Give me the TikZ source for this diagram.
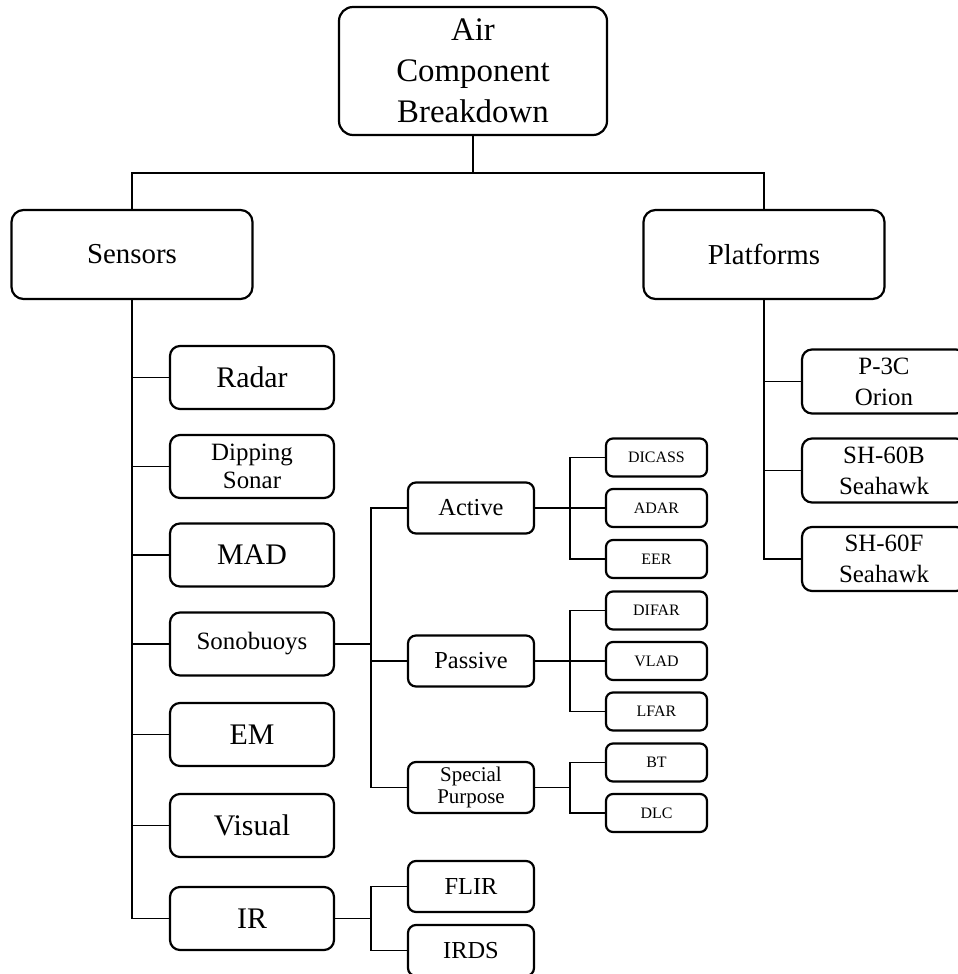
\documentclass[tikz,border=0pt]{standalone}
\usepackage{fontspec}
\setmainfont{Liberation Serif}
\begin{document}
\begin{tikzpicture}[x=1bp,y=-1bp,
  box/.style={draw, line width=2.2bp, rounded corners=10bp, inner sep=0pt, align=center, fill=white},
  topbox/.style={box, rounded corners=14bp, minimum width=268bp, minimum height=128bp, font=\fontsize{33}{41}\selectfont},
  midbox/.style={box, rounded corners=12bp, minimum width=241bp, minimum height=89bp, font=\fontsize{29}{34}\selectfont},
  leafbig/.style={box, minimum width=164bp, minimum height=63bp, font=\fontsize{30}{34}\selectfont},
  leafmed/.style={box, minimum width=164bp, minimum height=63bp, font=\fontsize{25}{28}\selectfont},
  subbox/.style={box, rounded corners=8bp, minimum width=126bp, minimum height=51bp, font=\fontsize{24.5}{28}\selectfont},
  smallbox/.style={box, rounded corners=7bp, minimum width=101bp, minimum height=38bp, font=\fontsize{16}{19}\selectfont},
  conn/.style={line width=1.9bp}
]
\useasboundingbox (0,0) rectangle (958,974);
\clip (0,0) rectangle (958,974);

% top level
\node[topbox] (top) at (473,71) {Air\\Component\\Breakdown};
\node[midbox] (sensors) at (132,254.5) {Sensors};
\node[midbox] (platforms) at (764,254.5) {Platforms};

% sensors children
\node[leafbig] (radar) at (252,377.5) {Radar};
\node[leafmed, font=\fontsize{25}{28}\selectfont] (dipping) at (252,466.5) {Dipping\\Sonar};
\node[leafbig] (mad) at (252,555) {MAD};
\node[leafmed] (sono) at (252,644) {Sonobuoys};
\node[leafbig] (em) at (252,734.5) {EM};
\node[leafbig] (visual) at (252,825.5) {Visual};
\node[leafbig] (ir) at (252,918.5) {IR};

% sonobuoy children
\node[subbox] (active) at (471,508) {Active};
\node[subbox] (passive) at (471,661) {Passive};
\node[subbox, font=\fontsize{21}{23}\selectfont] (special) at (471,787.5) {Special\\Purpose};

% IR children
\node[subbox] (flir) at (471,886.5) {FLIR};
\node[subbox] (irds) at (471,950.5) {IRDS};

% leaves
\node[smallbox] (dicass) at (656.5,457.5) {DICASS};
\node[smallbox] (adar) at (656.5,508) {ADAR};
\node[smallbox] (eer) at (656.5,559) {EER};
\node[smallbox] (difar) at (656.5,610.5) {DIFAR};
\node[smallbox] (vlad) at (656.5,661) {VLAD};
\node[smallbox] (lfar) at (656.5,711.5) {LFAR};
\node[smallbox] (bt) at (656.5,762.5) {BT};
\node[smallbox] (dlc) at (656.5,813) {DLC};

% platforms children
\node[leafmed, minimum height=64bp, font=\fontsize{25}{31}\selectfont] (p3c) at (884,381.5) {P-3C\\Orion};
\node[leafmed, minimum height=64bp, font=\fontsize{25}{31}\selectfont] (sh60b) at (884,470.5) {SH-60B\\Seahawk};
\node[leafmed, minimum height=64bp, font=\fontsize{25}{31}\selectfont] (sh60f) at (884,559) {SH-60F\\Seahawk};

% junction coordinates
\coordinate (bus) at (473,173);
\coordinate (sj) at (371,0);
\coordinate (aj) at (570,0);

% connectors
\draw[conn] (top.south) -- (bus);
\draw[conn] (sensors.north) |- (bus) -| (platforms.north);

\draw[conn] (sensors.south) |- (ir.west);
\foreach \n in {radar,dipping,mad,sono,em,visual}
  \draw[conn] (sensors.south |- \n.west) -- (\n.west);

\draw[conn] (sono.east) -- (sj |- sono.east);
\draw[conn] (active.west) -| (sj |- special.west) -- (special.west);
\draw[conn] (passive.west) -- (sj |- passive.west);

\draw[conn] (ir.east) -- (sj |- ir.east);
\draw[conn] (flir.west) -| (sj |- irds.west) -- (irds.west);

\draw[conn] (dicass.west) -| (aj |- eer.west) -- (eer.west);
\draw[conn] (active.east) -- (adar.west);
\draw[conn] (difar.west) -| (aj |- lfar.west) -- (lfar.west);
\draw[conn] (passive.east) -- (vlad.west);
\draw[conn] (bt.west) -| (aj |- dlc.west) -- (dlc.west);
\draw[conn] (special.east) -- (aj |- special.east);

\draw[conn] (platforms.south) |- (sh60f.west);
\draw[conn] (platforms.south |- p3c.west) -- (p3c.west);
\draw[conn] (platforms.south |- sh60b.west) -- (sh60b.west);
\end{tikzpicture}
\end{document}
